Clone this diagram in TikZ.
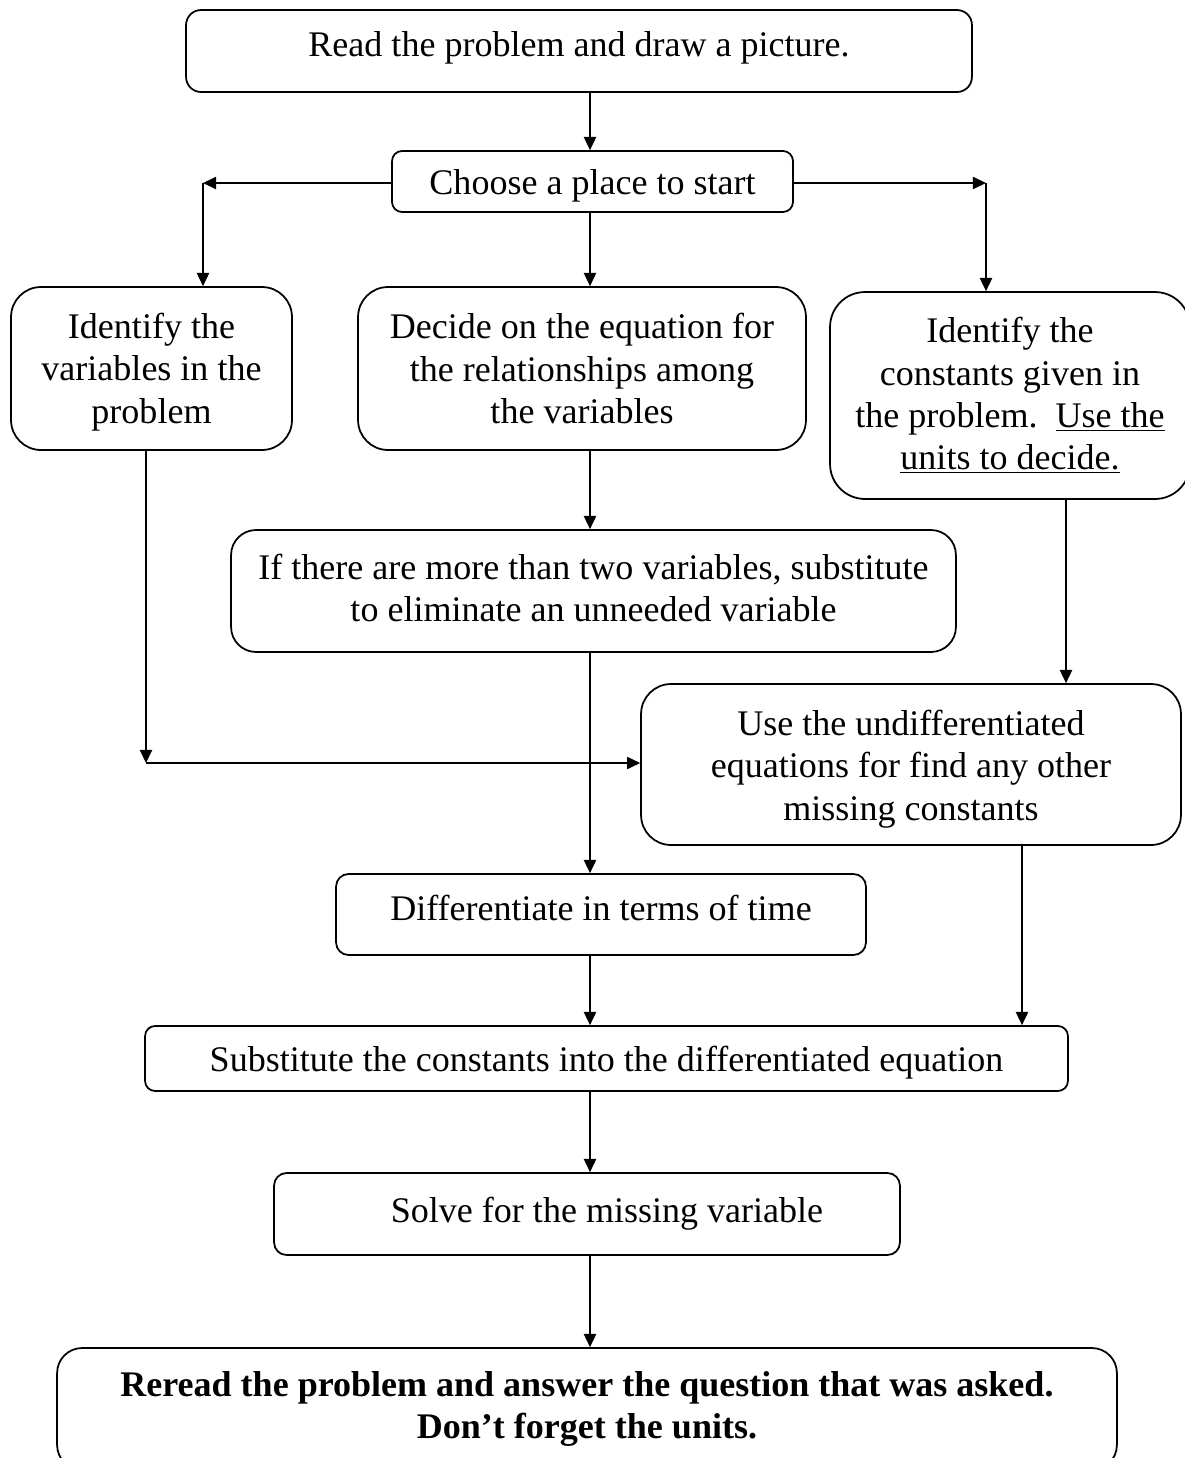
\documentclass[tikz,border=0pt]{standalone}
\usepackage{fontspec}
\setmainfont{Liberation Serif}
\usetikzlibrary{arrows.meta}

\begin{document}
\begin{tikzpicture}
	[x=0.02cm, y=-0.02cm,
	box/.style={draw, line width=1pt, rounded corners=#1, align=center,
		inner sep=0pt, font=\fontsize{20.5}{24.1}\selectfont},
	box/.default=0.3cm,
	link/.style={line width=0.8pt, -{Triangle[length=7.5pt,width=7pt]}}
	]
	\useasboundingbox (0,0) rectangle (1185,1458);
	\clip (0,0) rectangle (1185,1458);

	% boxes
	\node[box=0.3cm, minimum width=15.72cm, minimum height=1.64cm,
		text height=14pt, text depth=7.9pt] (read) at (579,51)
		{Read the problem and draw a picture.};
	\node[box=0.2cm, minimum width=8.02cm, minimum height=1.22cm,
		text height=19.7pt, text depth=4.45pt] (choose) at (592.5,181.5)
		{Choose a place to start};
	\node[box=0.6cm, minimum width=5.62cm, minimum height=3.26cm] (vars) at (151.5,368.5)
		{\rule{0pt}{18.5pt}Identify the\\ variables in the\\ problem};
	\node[box=0.6cm, minimum width=8.96cm, minimum height=3.26cm] (eqn) at (582,368.5)
		{Decide on the equation for\\ the relationships among\\ the variables};
	\node[box=0.7cm, minimum width=7.2cm, minimum height=4.14cm] (consts) at (1010,395.5)
		{Identify the\\ constants given in\\ the problem.\ \ \underline{Use the}\\ \underline{units to decide.}};
	\node[box=0.5cm, minimum width=14.5cm, minimum height=2.44cm] (elim) at (593.5,591)
		{If there are more than two variables, substitute\\ to eliminate an unneeded variable\rule[-3.4pt]{0pt}{3.4pt}};
	\node[box=0.6cm, minimum width=10.8cm, minimum height=3.22cm] (undiff) at (911,764.5)
		{\rule{0pt}{19.7pt}Use the undifferentiated\\ equations for find any other\\ missing constants};
	\node[box=0.25cm, minimum width=10.6cm, minimum height=1.62cm,
		text height=14pt, text depth=6.8pt] (diff) at (601,914.5)
		{Differentiate in terms of time};
	\node[box=0.2cm, minimum width=18.46cm, minimum height=1.3cm,
		text height=19.7pt, text depth=4.45pt] (subst) at (606.5,1058.5)
		{Substitute the constants into the differentiated equation};
	\node[box=0.25cm, minimum width=12.52cm, minimum height=1.64cm] (solve) at (587,1214)
		{\hspace*{0.8cm}Solve for the missing variable};
	\node[box=0.5cm, minimum width=21.2cm, minimum height=2.44cm, font=\fontsize{20.5}{24.1}\selectfont\bfseries] (reread) at (587,1409)
		{Reread the problem and answer the question that was asked.\\ Don’t forget the units.};

	% turning points
	\coordinate (mid) at (590,0);
	\coordinate (lc) at (203,183);
	\coordinate (rc) at (986,183);
	\coordinate (lb) at (146,763);
	\coordinate (rx) at (1066,0);
	\coordinate (ux) at (1022,0);

	% connectors
	\draw[link] (read.south -| mid) -- (choose.north -| mid);
	\draw[link] (choose.west |- lc) -- (lc);
	\draw[link] (lc) -- (vars.north -| lc);
	\draw[link] (choose.east |- rc) -- (rc);
	\draw[link] (rc) -- (consts.north -| rc);
	\draw[link] (choose.south -| mid) -- (eqn.north -| mid);
	\draw[link] (eqn.south -| mid) -- (elim.north -| mid);
	\draw[link] (consts.south -| rx) -- (undiff.north -| rx);
	\draw[link] (vars.south -| lb) -- (lb);
	\draw[link] (lb) -- (lb -| undiff.west);
	\draw[link] (elim.south -| mid) -- (diff.north -| mid);
	\draw[link] (diff.south -| mid) -- (subst.north -| mid);
	\draw[link] (undiff.south -| ux) -- (subst.north -| ux);
	\draw[link] (subst.south -| mid) -- (solve.north -| mid);
	\draw[link] (solve.south -| mid) -- (reread.north -| mid);
\end{tikzpicture}
\end{document}
